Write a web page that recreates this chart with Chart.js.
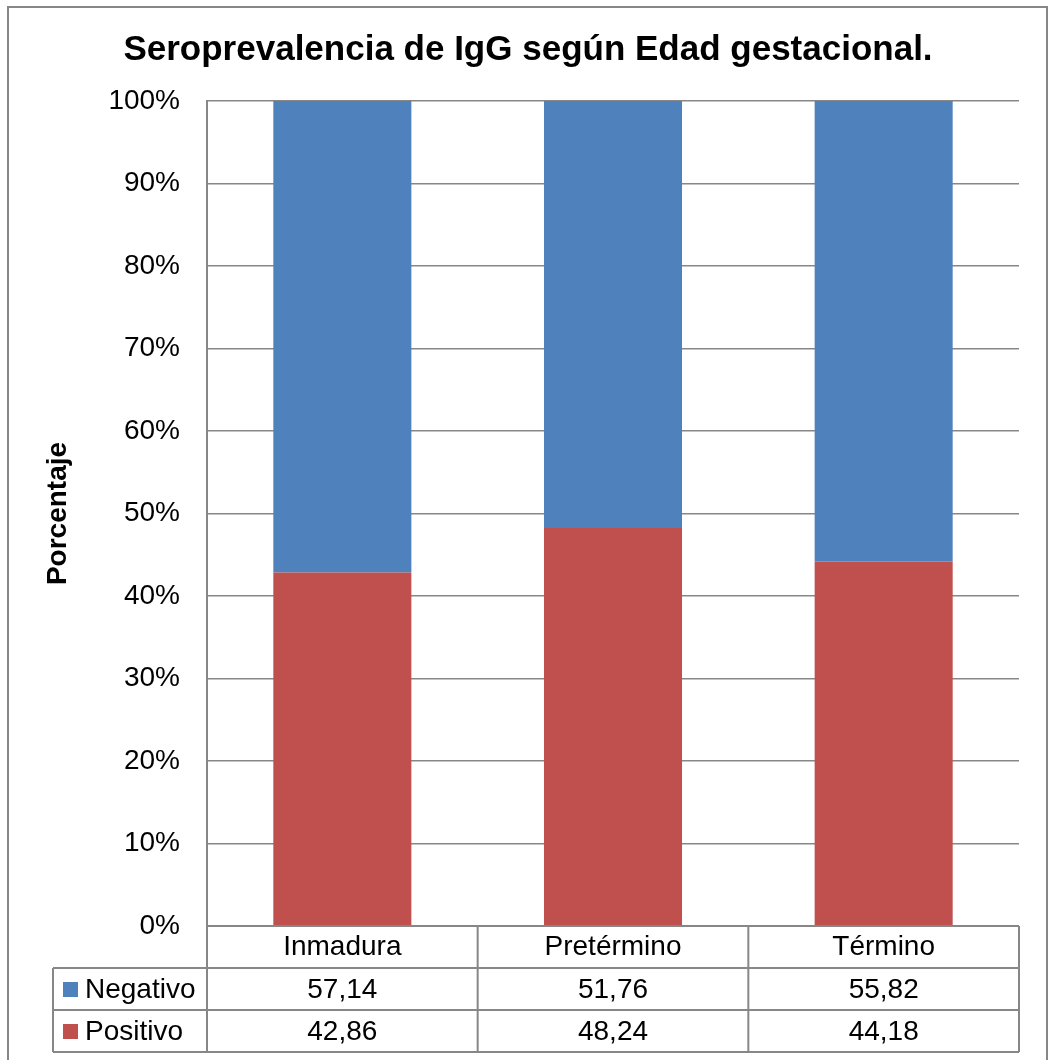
<!DOCTYPE html>
<html>
<head>
<meta charset="utf-8">
<script src="https://cdn.jsdelivr.net/npm/chart.js@4/dist/chart.umd.min.js"></script>
<style>
html,body{margin:0;padding:0;background:#fff;}
#wrap{width:1048px;height:1060px;}
</style>
</head>
<body>
<div id="wrap"><canvas id="c" width="1048" height="1060"></canvas></div>
<script>
const titleText = 'Seroprevalencia de IgG según Edad gestacional.';
const yTitle = 'Porcentaje';
const categories = ['Inmadura', 'Pretérmino', 'Término'];
const negativo = [57.14, 51.76, 55.82];
const positivo = [42.86, 48.24, 44.18];
const negLabels = ['57,14', '51,76', '55,82'];
const posLabels = ['42,86', '48,24', '44,18'];
const seriesNames = ['Negativo', 'Positivo'];
const blue = '#4F81BD';
const red = '#C0504D';
const gridColor = '#878787';
const FONT = "'Liberation Sans', Arial, sans-serif";

const tablePlugin = {
  id: 'tablePlugin',
  afterDraw(chart) {
    const ctx = chart.ctx;
    const x = chart.scales.x;
    const area = chart.chartArea;
    ctx.save();
    // outer frame
    ctx.strokeStyle = gridColor;
    ctx.lineWidth = 2;
    ctx.strokeRect(8, 7, 1039, 1070);
    // title
    ctx.fillStyle = '#000';
    ctx.font = "bold 35px " + FONT;
    ctx.textAlign = 'center';
    ctx.textBaseline = 'middle';
    ctx.fillText(titleText, 528, 50);

    const n = categories.length;
    const half = (x.getPixelForValue(1) - x.getPixelForValue(0)) / 2;
    const left = area.left, right = area.right;
    const top = area.bottom;
    const rowH = 42;
    const legLeft = 53;
    const r1 = top + rowH, r2 = r1 + rowH, r3 = r2 + rowH;
    ctx.lineWidth = 2;
    ctx.strokeStyle = gridColor;
    ctx.beginPath();
    // vertical lines
    for (let i = 0; i < n; i++) {
      const b = x.getPixelForValue(i) - half;
      ctx.moveTo(b, top); ctx.lineTo(b, r3);
    }
    ctx.moveTo(x.getPixelForValue(n - 1) + half, top); ctx.lineTo(x.getPixelForValue(n - 1) + half, r3);
    ctx.moveTo(legLeft, r1); ctx.lineTo(legLeft, r3);
    // horizontal
    ctx.moveTo(left, top); ctx.lineTo(right, top);
    ctx.moveTo(legLeft, r1); ctx.lineTo(right, r1);
    ctx.moveTo(legLeft, r2); ctx.lineTo(right, r2);
    ctx.moveTo(legLeft, r3); ctx.lineTo(right, r3);
    ctx.stroke();

    ctx.font = "28px " + FONT;
    ctx.fillStyle = '#000';
    ctx.textAlign = 'center';
    ctx.textBaseline = 'middle';
    const rows = [negLabels, posLabels];
    for (let r = 0; r < 2; r++) {
      const cy = r1 + rowH * r + rowH / 2 + 1;
      for (let i = 0; i < n; i++) {
        ctx.fillText(rows[r][i], x.getPixelForValue(i), cy);
      }
    }
    // legend keys
    const colors = [blue, red];
    for (let r = 0; r < 2; r++) {
      const cy = r1 + rowH * r + rowH / 2;
      ctx.fillStyle = colors[r];
      ctx.fillRect(63, cy - 7, 15, 15);
      ctx.fillStyle = '#000';
      ctx.textAlign = 'left';
      ctx.fillText(seriesNames[r], 85, cy + 1);
    }
    ctx.restore();
  }
};

new Chart(document.getElementById('c'), {
  type: 'bar',
  data: {
    labels: categories,
    datasets: [
      { label: seriesNames[1], data: positivo, backgroundColor: red, stack: 's' },
      { label: seriesNames[0], data: negativo, backgroundColor: blue, stack: 's' }
    ]
  },
  options: {
    responsive: false,
    animation: false,
    devicePixelRatio: 1,
    layout: { padding: { top: 101, left: 0, right: 29, bottom: 92 } },
    datasets: { bar: { barPercentage: 0.51, categoryPercentage: 1 } },
    plugins: {
      legend: { display: false },
      title: { display: false },
      tooltip: { enabled: false }
    },
    scales: {
      x: {
        stacked: true,
        grid: { display: false, drawTicks: false },
        border: { display: false },
        ticks: { color: '#000', font: { family: FONT, size: 28 }, padding: 4, maxRotation: 0 },
        afterFit(scale) { scale.height = 42; }
      },
      y: {
        stacked: true,
        min: 0, max: 100,
        grid: { color: gridColor, lineWidth: 1.5, drawTicks: false },
        border: { display: true, color: gridColor, width: 2 },
        ticks: { stepSize: 10, color: '#000', padding: 27, font: { family: FONT, size: 28 }, callback: v => v + '%' },
        title: { display: true, text: yTitle, color: '#000', font: { family: FONT, size: 28, weight: 'bold' }, padding: { top: 41, bottom: 0 } },
        afterFit(scale) { scale.width = 207; }
      }
    }
  },
  plugins: [tablePlugin]
});
</script>
</body>
</html>
